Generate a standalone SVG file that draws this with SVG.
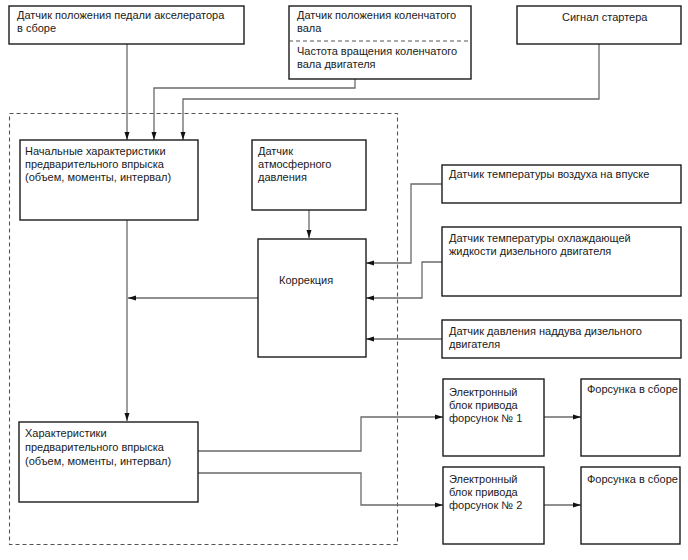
<svg xmlns="http://www.w3.org/2000/svg" width="688" height="560" viewBox="0 0 688 560">
<style>
.box{fill:#fff;stroke:#1a1a1a;stroke-width:1.4}
.t{font-family:"Liberation Sans",Arial,sans-serif;font-size:11px;fill:#1a1a1a}
.c{fill:none;stroke:#6a6a6a;stroke-width:1.3}
.dash{fill:none;stroke:#555;stroke-width:1.1;stroke-dasharray:4,3}
</style>
<defs>
<marker id="arr" markerUnits="userSpaceOnUse" markerWidth="9" markerHeight="6" refX="8" refY="3" orient="auto">
<path d="M0,0.5 L8,3 L0,5.5 Z" fill="#111"/>
</marker>
</defs>
<rect id="container" class="dash" x="9.5" y="113.5" width="388" height="431"/>
<g id="connectors">
<path class="c" d="M127,44 V140" marker-end="url(#arr)"/>
<path class="c" d="M355,79 V88 H154 V140" marker-end="url(#arr)"/>
<path class="c" d="M599,44 V99 H183 V140" marker-end="url(#arr)"/>
<path class="c" d="M127,220 V421" marker-end="url(#arr)"/>
<path class="c" d="M258,298 H128" marker-end="url(#arr)"/>
<path class="c" d="M309,210 V238" marker-end="url(#arr)"/>
<path class="c" d="M442,184 H411 V263 H366" marker-end="url(#arr)"/>
<path class="c" d="M442,262 H422 V298 H366" marker-end="url(#arr)"/>
<path class="c" d="M442,339 H366" marker-end="url(#arr)"/>
<path class="c" d="M198,451 H361 V417 H443" marker-end="url(#arr)"/>
<path class="c" d="M198,473 H361 V505 H443" marker-end="url(#arr)"/>
<path class="c" d="M544,417 H581" marker-end="url(#arr)"/>
<path class="c" d="M544,505 H581" marker-end="url(#arr)"/>
</g>
<g id="accel">
<rect class="box" x="9" y="6" width="235" height="38"/>
<text class="t" x="17" y="19">Датчик положения педали акселератора</text>
<text class="t" x="17" y="32">в сборе</text>
</g>
<g id="crank">
<rect class="box" x="289" y="6" width="182" height="73"/>
<line class="dash" x1="289" y1="41" x2="471" y2="41"/>
<text class="t" x="297" y="19">Датчик положения коленчатого</text>
<text class="t" x="297" y="32">вала</text>
<text class="t" x="297" y="55">Частота вращения коленчатого</text>
<text class="t" x="297" y="68">вала двигателя</text>
</g>
<g id="starter">
<rect class="box" x="517" y="6" width="164" height="38"/>
<text class="t" x="562" y="21">Сигнал стартера</text>
</g>
<g id="initial">
<rect class="box" x="20" y="140" width="178" height="80"/>
<text class="t" x="25" y="155">Начальные характеристики</text>
<text class="t" x="25" y="168">предварительного впрыска</text>
<text class="t" x="25" y="181">(объем, моменты, интервал)</text>
</g>
<g id="atm">
<rect class="box" x="252" y="140" width="114" height="70"/>
<text class="t" x="258" y="155">Датчик</text>
<text class="t" x="258" y="168">атмосферного</text>
<text class="t" x="258" y="181">давления</text>
</g>
<g id="correction">
<rect class="box" x="258" y="239" width="108" height="118"/>
<text class="t" x="279" y="284">Коррекция</text>
</g>
<g id="airtemp">
<rect class="box" x="442" y="165" width="239" height="38"/>
<text class="t" x="449" y="178">Датчик температуры воздуха на впуске</text>
</g>
<g id="coolant">
<rect class="box" x="442" y="227" width="239" height="69"/>
<text class="t" x="449" y="242">Датчик температуры охлаждающей</text>
<text class="t" x="449" y="255">жидкости дизельного двигателя</text>
</g>
<g id="boost">
<rect class="box" x="442" y="320" width="239" height="38"/>
<text class="t" x="449" y="335">Датчик давления наддува дизельного</text>
<text class="t" x="449" y="348">двигателя</text>
</g>
<g id="pilot">
<rect class="box" x="19" y="422" width="179" height="80"/>
<text class="t" x="25" y="437">Характеристики</text>
<text class="t" x="25" y="451">предварительного впрыска</text>
<text class="t" x="25" y="465">(объем, моменты, интервал)</text>
</g>
<g id="edu1">
<rect class="box" x="443" y="379" width="101" height="77"/>
<text class="t" x="449" y="396">Электронный</text>
<text class="t" x="449" y="409">блок привода</text>
<text class="t" x="449" y="422">форсунок № 1</text>
</g>
<g id="inj1">
<rect class="box" x="581" y="379" width="99" height="77"/>
<text class="t" x="587" y="393">Форсунка в сборе</text>
</g>
<g id="edu2">
<rect class="box" x="443" y="467" width="101" height="77"/>
<text class="t" x="449" y="483">Электронный</text>
<text class="t" x="449" y="496">блок привода</text>
<text class="t" x="449" y="509">форсунок № 2</text>
</g>
<g id="inj2">
<rect class="box" x="581" y="467" width="99" height="77"/>
<text class="t" x="587" y="483">Форсунка в сборе</text>
</g>
</svg>
